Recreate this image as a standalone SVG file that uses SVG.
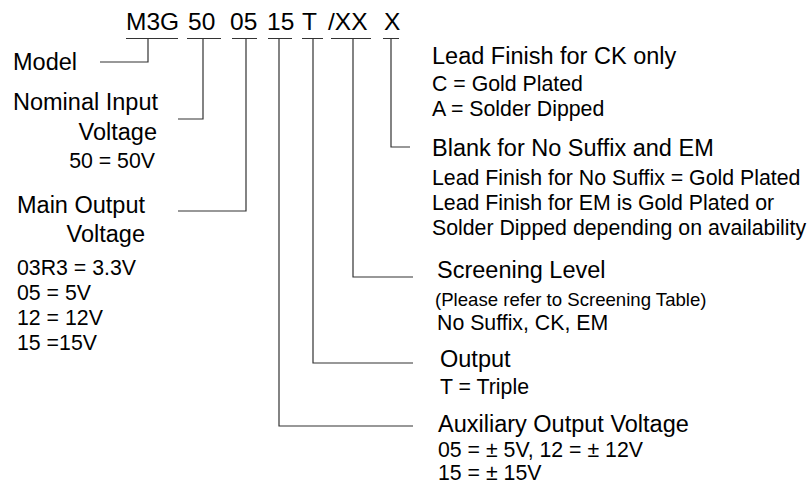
<svg xmlns="http://www.w3.org/2000/svg" width="807" height="485" viewBox="0 0 807 485">
<style>
text{font-family:"Liberation Sans",Arial,sans-serif;fill:#000}
.code{font-size:24.5px}
.big{font-size:23.5px}
.sm{font-size:21.3px}
.xs{font-size:18.6px}
.end{text-anchor:end}
.ln{fill:none;stroke:#333;stroke-width:1.2}
</style>
<rect width="807" height="485" fill="#fff"/>
<g id="connectors">
<path class="ln" d="M126 38.5H178 M148 38.5V62H100"/>
<path class="ln" d="M187 38.5H221 M203 38.5V119H178"/>
<path class="ln" d="M232 38.5H257 M246 38.5V211H178"/>
<path class="ln" d="M268 38.5H292 M279 38.5V426H413"/>
<path class="ln" d="M302 38.5H323 M313 38.5V363H413"/>
<path class="ln" d="M331 38.5H371 M353 38.5V277H413"/>
<path class="ln" d="M383 38.5H399 M391 38.5V147H410"/>
</g>
<g id="code">
<text class="code" x="126" y="30">M3G</text>
<text class="code" x="188" y="30">50</text>
<text class="code" x="230" y="30">05</text>
<text class="code" x="267" y="30">15</text>
<text class="code" x="302" y="30">T</text>
<text class="code" x="328" y="30">/XX</text>
<text class="code" x="384" y="30">X</text>
</g>
<g id="model"><text class="big" x="13" y="70">Model</text></g>
<g id="nominal-input">
<text class="big" x="13" y="110">Nominal Input</text>
<text class="big end" x="157" y="140">Voltage</text>
<text class="sm end" x="155" y="168">50 = 50V</text>
</g>
<g id="main-output">
<text class="big" x="17" y="213">Main Output</text>
<text class="big end" x="145" y="242">Voltage</text>
<text class="sm" x="17" y="275">03R3 = 3.3V</text>
<text class="sm" x="17" y="300">05 = 5V</text>
<text class="sm" x="17" y="325">12 = 12V</text>
<text class="sm" x="17" y="350">15 =15V</text>
</g>
<g id="lead-finish">
<text class="big" x="432" y="64">Lead Finish for CK only</text>
<text class="sm" x="432" y="91">C = Gold Plated</text>
<text class="sm" x="432" y="116">A = Solder Dipped</text>
</g>
<g id="blank">
<text class="big" x="432" y="156">Blank for No Suffix and EM</text>
<text class="sm" x="432" y="185">Lead Finish for No Suffix = Gold Plated</text>
<text class="sm" x="432" y="210">Lead Finish for EM is Gold Plated or</text>
<text class="sm" x="432" y="235">Solder Dipped depending on availability</text>
</g>
<g id="screening">
<text class="big" x="437" y="278">Screening Level</text>
<text class="xs" x="435" y="306">(Please refer to Screening Table)</text>
<text class="sm" x="437" y="330">No Suffix, CK, EM</text>
</g>
<g id="output">
<text class="big" x="440" y="367">Output</text>
<text class="sm" x="440" y="394">T = Triple</text>
</g>
<g id="aux">
<text class="big" x="438" y="432">Auxiliary Output Voltage</text>
<text class="sm" x="438" y="457">05 = ± 5V, 12 = ± 12V</text>
<text class="sm" x="438" y="480">15 = ± 15V</text>
</g>
</svg>
